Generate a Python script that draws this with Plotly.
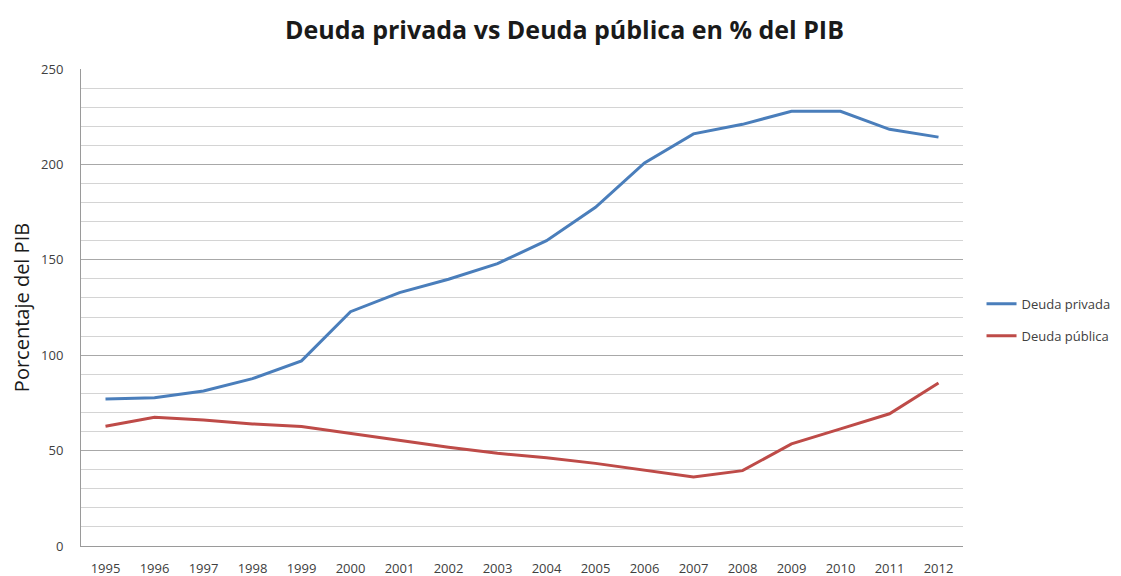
import plotly.graph_objects as go

years = ["1995", "1996", "1997", "1998", "1999", "2000", "2001", "2002", "2003",
         "2004", "2005", "2006", "2007", "2008", "2009", "2010", "2011", "2012"]
deuda_privada = [77, 77.7, 81.2, 87.7, 97, 122.8, 132.8, 139.8, 148, 160, 177.5,
                 200.8, 216, 221, 227.8, 227.8, 218.4, 214.3]
deuda_publica = [62.8, 67.5, 66.1, 64, 62.6, 58.9, 55.3, 51.8, 48.6, 46.2, 43.3,
                 39.8, 36.2, 39.5, 53.5, 61.4, 69.3, 85.4]

fig = go.Figure()
fig.add_trace(go.Scatter(x=years, y=deuda_privada, mode="lines", name="Deuda privada",
                         legendgroup="a", line=dict(color="#4a7ebb", width=3)))
fig.add_trace(go.Scatter(x=years, y=deuda_publica, mode="lines", name="Deuda pública",
                         legendgroup="b", line=dict(color="#be4b48", width=3)))

fig.update_layout(
    width=1113, height=568,
    margin=dict(l=73, r=158, t=61, b=30, autoexpand=False),
    paper_bgcolor="white", plot_bgcolor="white",
    font=dict(family="Open Sans, sans-serif", color="#404040"),
    title=dict(text="<b>Deuda privada vs Deuda pública en % del PIB</b>",
               x=0.5, xanchor="center", y=0.961, yanchor="middle",
               font=dict(size=25, color="#1a1a1a", family="Open Sans, sans-serif")),
    showlegend=True,
    legend=dict(x=1.021, xanchor="left", y=0.474, yanchor="middle",
                font=dict(size=13, color="#404040"), tracegroupgap=12,
                traceorder="grouped", bgcolor="rgba(0,0,0,0)"),
)
fig.update_xaxes(type="category", range=[-0.5, 17.5], showgrid=False, showline=True,
                 linecolor="#9a9a9a", linewidth=1, automargin=False,
                 ticks="outside", ticklen=10, tickcolor="rgba(0,0,0,0)",
                 tickfont=dict(size=13, color="#404040"), fixedrange=True)
fig.update_yaxes(range=[0, 250], dtick=50, showgrid=True, gridcolor="#a8a8a8", gridwidth=1,
                 minor=dict(dtick=10, showgrid=True, gridcolor="#d4d4d4", gridwidth=1),
                 showline=True, linecolor="#9a9a9a", linewidth=1, zeroline=False,
                 automargin=False,
                 ticks="outside", ticklen=14, tickcolor="rgba(0,0,0,0)",
                 tickfont=dict(size=13, color="#404040"),
                 title=dict(text="Porcentaje del PIB", font=dict(size=20, color="#1a1a1a"),
                            standoff=10))

fig.write_html("out.html")
